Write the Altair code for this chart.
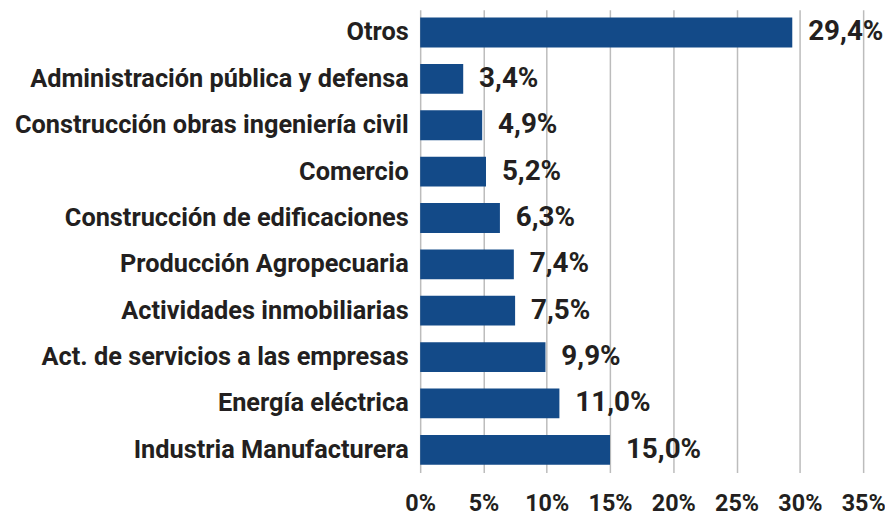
import altair as alt
import pandas as pd

categories = [
    "Otros",
    "Administración pública y defensa",
    "Construcción obras ingeniería civil",
    "Comercio",
    "Construcción de edificaciones",
    "Producción Agropecuaria",
    "Actividades inmobiliarias",
    "Act. de servicios a las empresas",
    "Energía eléctrica",
    "Industria Manufacturera",
]
values = [29.4, 3.4, 4.9, 5.2, 6.3, 7.4, 7.5, 9.9, 11.0, 15.0]
labels = ["29,4%", "3,4%", "4,9%", "5,2%", "6,3%", "7,4%", "7,5%", "9,9%", "11,0%", "15,0%"]
x_ticks = [0, 5, 10, 15, 20, 25, 30, 35]

df = pd.DataFrame({"cat": categories, "val": values, "lab": labels})

FONT = "Roboto"
TXT = "#231f20"

y_enc = alt.Y(
    "cat:N",
    sort=categories,
    title=None,
    scale=alt.Scale(paddingInner=0.357, paddingOuter=0.17),
    axis=alt.Axis(
        domain=False, ticks=False, labelPadding=12, labelFont=FONT,
        labelFontSize=25.5, labelFontWeight="bold", labelColor=TXT, labelLimit=420,
    ),
)

bars = alt.Chart(df).mark_bar(color="#134a88").encode(
    x=alt.X(
        "val:Q",
        title=None,
        scale=alt.Scale(domain=[0, 35], nice=False),
        axis=alt.Axis(
            values=x_ticks, labelExpr="datum.value + '%'", domain=False, ticks=False,
            grid=True, gridColor="#bcbcbc", gridWidth=1.5, labelPadding=19,
            labelOverlap=False, labelFlush=False,
            labelFont=FONT, labelFontSize=23.5, labelFontWeight="bold", labelColor=TXT,
        ),
    ),
    y=y_enc,
)

text = alt.Chart(df).mark_text(
    align="left", baseline="middle", dx=16, font=FONT, fontSize=28,
    fontWeight="bold", color=TXT,
).encode(x="val:Q", y=alt.Y("cat:N", sort=categories), text="lab:N")

chart = (bars + text).properties(
    width=446, height=466,
    autosize=alt.AutoSizeParams(type="none"),
    padding={"left": 415, "top": 0, "right": 22, "bottom": 46},
).configure_view(stroke=None)

chart.save("out.html", embed_options={"renderer": "svg", "actions": False})
